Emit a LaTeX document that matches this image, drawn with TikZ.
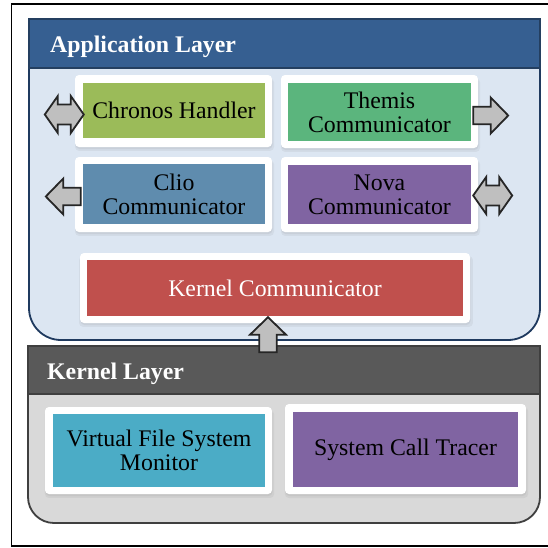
\documentclass[tikz,border=0pt]{standalone}
\usepackage{fontspec}
\setmainfont{Liberation Serif}
\usetikzlibrary{shadows,calc}
\definecolor{appHead}{HTML}{365F91}
\definecolor{appHeadBorder}{HTML}{243F60}
\definecolor{appBody}{HTML}{DCE6F2}
\definecolor{appBorder}{HTML}{1F3A5F}
\definecolor{kerHead}{HTML}{595959}
\definecolor{kerBorder}{HTML}{3F3F3F}
\definecolor{kerBody}{HTML}{D9D9D9}
\definecolor{cChronos}{HTML}{9BBB59}
\definecolor{cThemis}{HTML}{5BB57D}
\definecolor{cClio}{HTML}{5F8CAE}
\definecolor{cNova}{HTML}{8064A2}
\definecolor{cKernel}{HTML}{C0504D}
\definecolor{cVfs}{HTML}{4BACC6}
\definecolor{cSys}{HTML}{8064A2}
\definecolor{arrFill}{HTML}{BFBFBF}
\definecolor{arrLine}{HTML}{262626}
\begin{document}
\begin{tikzpicture}[x=1pt,y=-1pt,
  txt/.style={font=\fontsize{23.8}{24}\selectfont},
  headbar/.style={rectangle, inner sep=0pt, line width=1.4pt},
  layerbody/.style={rectangle, inner sep=0pt, line width=1.8pt},
  title/.style={txt, font=\fontsize{23.8}{24}\selectfont\bfseries, text=white, anchor=base west, inner sep=0pt},
  card/.style={rectangle, fill=white, rounded corners=4pt, inner sep=0pt,
     drop shadow={opacity=0.10, shadow xshift=1pt, shadow yshift=-3.5pt, shadow scale=1.01},
     drop shadow={opacity=0.12, shadow xshift=0.5pt, shadow yshift=-2pt}},
  inbox/.style={rectangle, inner sep=0pt, align=center, txt, text=black},
  blockarrow/.style={fill=arrFill, draw=arrLine, line width=1.8pt, line join=miter},
  sarr/.pic={\path[blockarrow] (0,-8.75) -- (17.5,-8.75) -- (17.5,-18) -- (35,0) -- (17.5,18) -- (17.5,8.75) -- (0,8.75) -- cycle;},
  darr/.pic={\path[blockarrow] (0,0) -- (13,-18.5) -- (13,-10) -- (26,-10) -- (26,-18.5) -- (39,0) -- (26,18.5) -- (26,10) -- (13,10) -- (13,18.5) -- cycle;}
]
\useasboundingbox (0,0) rectangle (548,547);
\clip (0,0) rectangle (548,547);
\fill[white] (0,0) rectangle (548,547);
% outer frame (its right side lies beyond the picture)
\draw[line width=1.6pt] (11.5,4) rectangle (560,546);

% application layer
\node[layerbody, fill=appBody, draw=appBorder, rounded corners=32pt,
      minimum width=511pt, minimum height=321pt] (appbody) at (284.5,179.5) {};
\node[headbar, fill=appHead, draw=appHeadBorder,
      minimum width=511pt, minimum height=49pt] (apphead) at (284.5,43.5) {};
\node[title] (apptitle) at (50,52) {Application Layer};

% kernel layer
\node[layerbody, fill=kerBody, draw=kerBorder, rounded corners=26pt,
      minimum width=512pt, minimum height=177pt] (kerbody) at (284,434.5) {};
\node[headbar, fill=kerHead, draw=kerBorder,
      minimum width=512pt, minimum height=48pt] (kerhead) at (284,370) {};
\node[title] (kertitle) at (47,379) {Kernel Layer};

% application components
\node[card, minimum width=197pt, minimum height=72pt] (chronosF) at (173.5,111) {};
\node[inbox, fill=cChronos, minimum width=182pt, minimum height=55pt] (chronos) at (174,110.5) {Chronos Handler};

\node[card, minimum width=197pt, minimum height=73pt] (themisF) at (379.5,111.5) {};
\node[inbox, fill=cThemis, minimum width=183pt, minimum height=58pt] (themis) at (379.5,112) {Themis\\Communicator};

\node[card, minimum width=197pt, minimum height=75pt] (clioF) at (173.5,194.5) {};
\node[inbox, fill=cClio, minimum width=182pt, minimum height=60pt] (clio) at (174,194) {Clio\\Communicator};

\node[card, minimum width=197pt, minimum height=75pt] (novaF) at (379.5,194.5) {};
\node[inbox, fill=cNova, minimum width=183pt, minimum height=59pt] (nova) at (379.5,194.5) {Nova\\Communicator};

\node[card, minimum width=390pt, minimum height=70pt] (kcommF) at (275,288) {};
\node[inbox, fill=cKernel, text=white, minimum width=376pt, minimum height=56pt] (kcomm) at (275,288) {Kernel Communicator};

% kernel components
\node[card, minimum width=227pt, minimum height=87pt] (vfsF) at (158.5,450.5) {};
\node[inbox, fill=cVfs, minimum width=212pt, minimum height=73pt] (vfs) at (159,450.5) {Virtual File System\\Monitor};

\node[card, minimum width=241pt, minimum height=90pt] (sysF) at (405.5,449) {};
\node[inbox, fill=cSys, minimum width=225pt, minimum height=75pt] (sys) at (405.5,449.5) {System Call Tracer};

% block arrows
\pic at ($(chronos.west)+(-38,4)$) {darr};
\pic at ($(themis.east)+(2,3.5)$) {sarr};
\pic[rotate=180] at ($(clio.west)+(-2,2.5)$) {sarr};
\pic at ($(nova.east)+(2,1)$) {darr};
\pic[rotate=90] at ($(kcomm.south)+(-7,36)$) {sarr};
\end{tikzpicture}
\end{document}
